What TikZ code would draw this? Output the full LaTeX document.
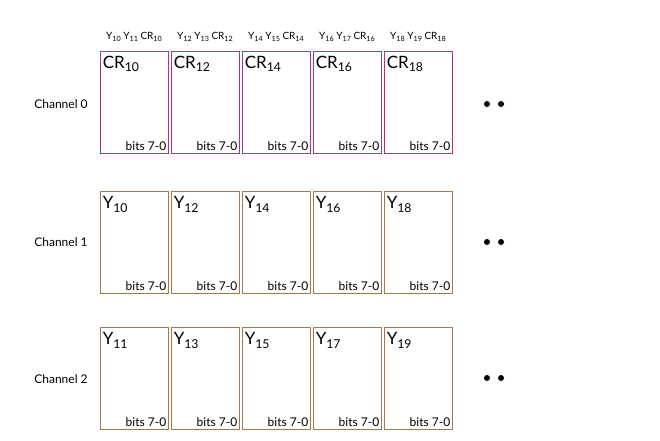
\documentclass[tikz,border=0pt]{standalone}
\usepackage{fontspec}
\setmainfont{Lato}
\newcommand{\lowr}[1]{\raisebox{-0.45ex}{\scalebox{0.72}{#1}}}
\definecolor{pinkc}{RGB}{185,45,130}
\definecolor{brownc}{RGB}{165,120,75}
\begin{document}
\begin{tikzpicture}[x=1pt,y=-1pt,
  cell/.style={draw, line width=0.9pt, minimum width=68pt, minimum height=102pt, inner sep=0pt},
  pinkcell/.style={cell, draw=pinkc},
  browncell/.style={cell, draw=brownc},
  toplab/.style={anchor=north west, font=\fontsize{17}{17}\selectfont, inner sep=0pt},
  bitlab/.style={anchor=south east, font=\fontsize{12}{12}\selectfont, inner sep=0pt},
  chlab/.style={font=\fontsize{12}{12}\selectfont, inner sep=0pt},
  headlab/.style={font=\fontsize{10}{10}\selectfont, inner sep=0pt},
  dotc/.style={circle, fill=black, minimum size=6pt, inner sep=0pt}]
\useasboundingbox (0,0) rectangle (660,440);

% Channel labels
\node[chlab] (ch0) at (61,104) {Channel 0};
\node[chlab] (ch1) at (61,242) {Channel 1};
\node[chlab] (ch2) at (61,379) {Channel 2};

% Row 0
\foreach \i/\a/\b/\c in {0/10/11/10, 1/12/13/12, 2/14/15/14, 3/16/17/16, 4/18/19/18} {
  \node[pinkcell] (r0b\i) at (134+71*\i,102) {};
  \node[toplab] (r0t\i) at ([xshift=3pt,yshift=-5pt]r0b\i.north west) {CR\lowr{\c}};
  \node[bitlab] (r0s\i) at ([xshift=-2pt,yshift=3pt]r0b\i.south east) {bits 7-0};
  \node[headlab] (h\i) at (134+71*\i,37) {Y\lowr{\a} Y\lowr{\b} CR\lowr{\c}};
}
% Row 1
\foreach \i/\a in {0/10, 1/12, 2/14, 3/16, 4/18} {
  \node[browncell] (r1b\i) at (134+71*\i,242.5) {};
  \node[toplab] (r1t\i) at ([xshift=3pt,yshift=-5pt]r1b\i.north west) {Y\lowr{\a}};
  \node[bitlab] (r1s\i) at ([xshift=-2pt,yshift=3pt]r1b\i.south east) {bits 7-0};
}
% Row 2
\foreach \i/\a in {0/11, 1/13, 2/15, 3/17, 4/19} {
  \node[browncell] (r2b\i) at (134+71*\i,378.5) {};
  \node[toplab] (r2t\i) at ([xshift=3pt,yshift=-5pt]r2b\i.north west) {Y\lowr{\a}};
  \node[bitlab] (r2s\i) at ([xshift=-2pt,yshift=3pt]r2b\i.south east) {bits 7-0};
}

% Ellipsis dots
\node[dotc] (d0a) at (487,104) {};
\node[dotc] (d0b) at (501,104) {};
\node[dotc] (d1a) at (487,242) {};
\node[dotc] (d1b) at (501,242) {};
\node[dotc] (d2a) at (487,378) {};
\node[dotc] (d2b) at (501,378) {};
\end{tikzpicture}
\end{document}
